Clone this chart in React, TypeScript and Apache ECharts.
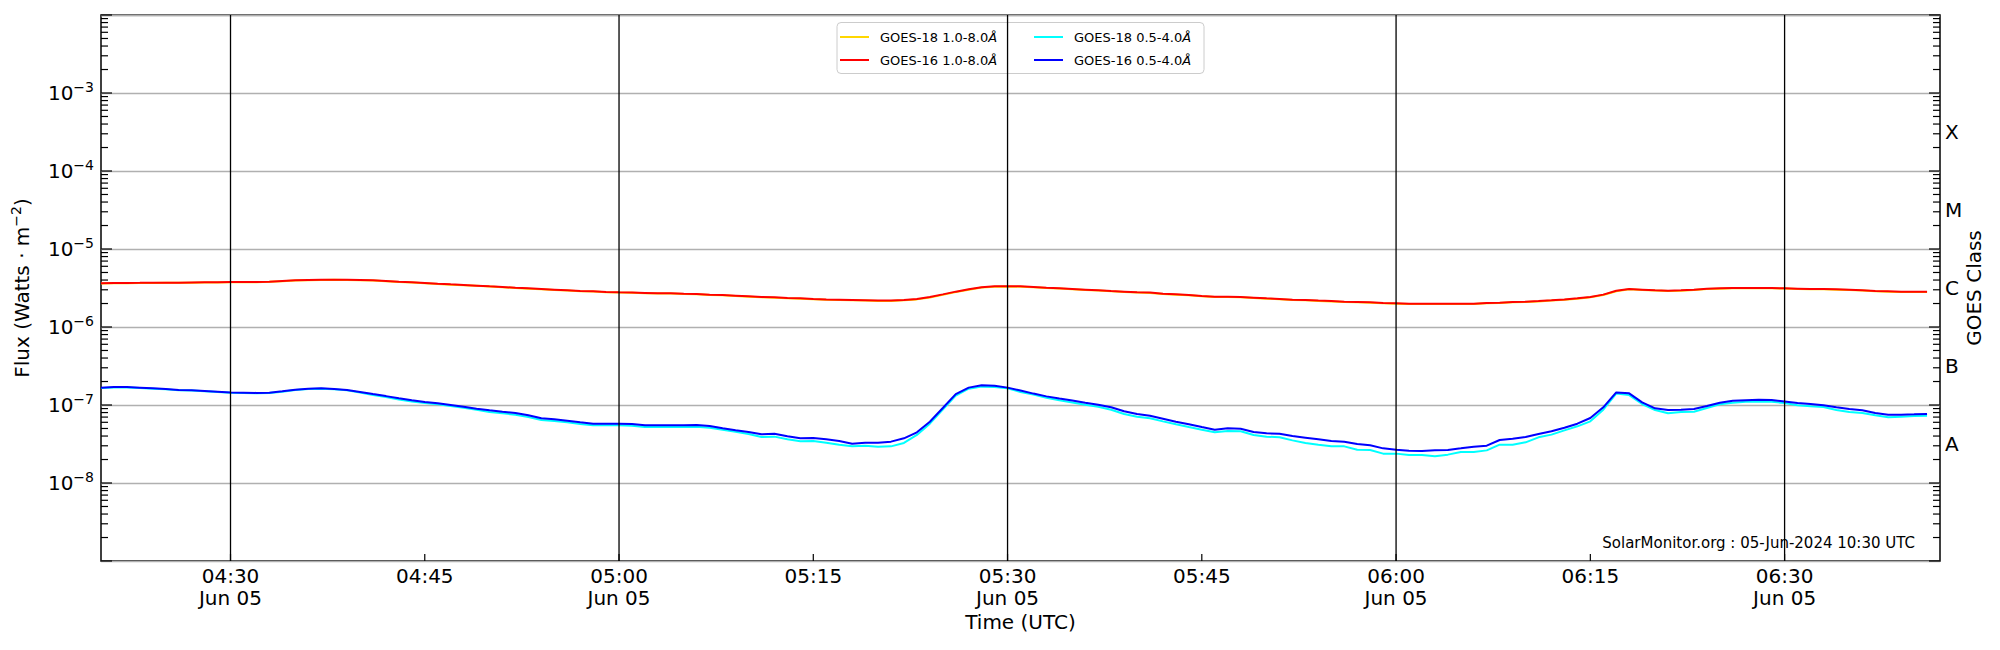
import React, { useEffect, useRef } from "react";
import * as echarts from "echarts";

// ---- time axis (UTC, 1-minute cadence) ----
const START_TIME = Date.UTC(2024, 5, 5, 4, 20);
const X_MIN = Date.UTC(2024, 5, 5, 4, 20);
const X_MAX = Date.UTC(2024, 5, 5, 6, 42);
const DATE_LABEL = "Jun 05";
const tickTimes = [
  Date.UTC(2024, 5, 5, 4, 30),
  Date.UTC(2024, 5, 5, 4, 45),
  Date.UTC(2024, 5, 5, 5, 0),
  Date.UTC(2024, 5, 5, 5, 15),
  Date.UTC(2024, 5, 5, 5, 30),
  Date.UTC(2024, 5, 5, 5, 45),
  Date.UTC(2024, 5, 5, 6, 0),
  Date.UTC(2024, 5, 5, 6, 15),
  Date.UTC(2024, 5, 5, 6, 30),
];
const dividerTimes = [
  Date.UTC(2024, 5, 5, 4, 30),
  Date.UTC(2024, 5, 5, 5, 0),
  Date.UTC(2024, 5, 5, 5, 30),
  Date.UTC(2024, 5, 5, 6, 0),
  Date.UTC(2024, 5, 5, 6, 30),
];

// ---- y axis ----
const Y_MIN = 1e-9;
const Y_MAX = 1e-2;
const yMajorTicks = [1e-9, 1e-8, 1e-7, 1e-6, 1e-5, 1e-4, 1e-3, 1e-2];
const yLabelExponents = [-8, -7, -6, -5, -4, -3];
const minorMultipliers = [2, 3, 4, 5, 6, 7, 8, 9];
const goesClasses = ["", "A", "B", "C", "M", "X", ""];

const seriesNames = [
  "GOES-18 1.0-8.0Å",
  "GOES-16 1.0-8.0Å",
  "GOES-18 0.5-4.0Å",
  "GOES-16 0.5-4.0Å",
];
const seriesColors = ["#FFD700", "#FF0000", "#00FFFF", "#0000FF"];

// ---- data (W/m^2), one value per minute from 04:20 UTC ----
const goes18Long = [
  3.60e-6, 3.64e-6, 3.65e-6, 3.66e-6, 3.67e-6, 3.68e-6, 3.68e-6, 3.70e-6, 3.71e-6, 3.72e-6,
  3.75e-6, 3.76e-6, 3.76e-6, 3.79e-6, 3.86e-6, 3.94e-6, 3.98e-6, 4.01e-6, 4.02e-6, 4.01e-6,
  3.98e-6, 3.94e-6, 3.86e-6, 3.78e-6, 3.71e-6, 3.64e-6, 3.57e-6, 3.49e-6, 3.43e-6, 3.37e-6,
  3.30e-6, 3.23e-6, 3.17e-6, 3.10e-6, 3.05e-6, 2.99e-6, 2.93e-6, 2.87e-6, 2.85e-6, 2.79e-6,
  2.76e-6, 2.74e-6, 2.71e-6, 2.68e-6, 2.68e-6, 2.65e-6, 2.63e-6, 2.58e-6, 2.55e-6, 2.50e-6,
  2.45e-6, 2.40e-6, 2.38e-6, 2.33e-6, 2.31e-6, 2.27e-6, 2.24e-6, 2.22e-6, 2.20e-6, 2.18e-6,
  2.16e-6, 2.16e-6, 2.20e-6, 2.26e-6, 2.38e-6, 2.58e-6, 2.80e-6, 3.01e-6, 3.20e-6, 3.29e-6,
  3.30e-6, 3.29e-6, 3.23e-6, 3.17e-6, 3.11e-6, 3.05e-6, 2.99e-6, 2.93e-6, 2.87e-6, 2.82e-6,
  2.76e-6, 2.73e-6, 2.65e-6, 2.60e-6, 2.55e-6, 2.48e-6, 2.43e-6, 2.43e-6, 2.40e-6, 2.36e-6,
  2.31e-6, 2.27e-6, 2.22e-6, 2.20e-6, 2.16e-6, 2.13e-6, 2.09e-6, 2.07e-6, 2.05e-6, 2.01e-6,
  1.99e-6, 1.97e-6, 1.97e-6, 1.97e-6, 1.97e-6, 1.97e-6, 1.97e-6, 2.01e-6, 2.03e-6, 2.07e-6,
  2.09e-6, 2.13e-6, 2.18e-6, 2.24e-6, 2.31e-6, 2.40e-6, 2.57e-6, 2.88e-6, 3.04e-6, 2.98e-6,
  2.93e-6, 2.90e-6, 2.92e-6, 2.98e-6, 3.07e-6, 3.10e-6, 3.13e-6, 3.13e-6, 3.13e-6, 3.14e-6,
  3.11e-6, 3.08e-6, 3.05e-6, 3.04e-6, 3.01e-6, 2.98e-6, 2.93e-6, 2.87e-6, 2.84e-6, 2.82e-6,
  2.81e-6, 2.81e-6,
];

const goes16Long = [
  3.63e-6, 3.67e-6, 3.67e-6, 3.68e-6, 3.70e-6, 3.70e-6, 3.70e-6, 3.72e-6, 3.74e-6, 3.74e-6,
  3.78e-6, 3.78e-6, 3.78e-6, 3.81e-6, 3.89e-6, 3.97e-6, 4.01e-6, 4.04e-6, 4.04e-6, 4.04e-6,
  4.01e-6, 3.97e-6, 3.89e-6, 3.81e-6, 3.74e-6, 3.67e-6, 3.59e-6, 3.52e-6, 3.46e-6, 3.39e-6,
  3.32e-6, 3.26e-6, 3.19e-6, 3.13e-6, 3.07e-6, 3.01e-6, 2.95e-6, 2.89e-6, 2.87e-6, 2.81e-6,
  2.78e-6, 2.76e-6, 2.73e-6, 2.70e-6, 2.70e-6, 2.67e-6, 2.65e-6, 2.60e-6, 2.57e-6, 2.52e-6,
  2.47e-6, 2.42e-6, 2.40e-6, 2.35e-6, 2.33e-6, 2.29e-6, 2.26e-6, 2.24e-6, 2.22e-6, 2.20e-6,
  2.18e-6, 2.18e-6, 2.22e-6, 2.29e-6, 2.42e-6, 2.62e-6, 2.84e-6, 3.04e-6, 3.23e-6, 3.32e-6,
  3.32e-6, 3.32e-6, 3.26e-6, 3.19e-6, 3.13e-6, 3.07e-6, 3.01e-6, 2.95e-6, 2.89e-6, 2.84e-6,
  2.78e-6, 2.76e-6, 2.67e-6, 2.62e-6, 2.57e-6, 2.50e-6, 2.45e-6, 2.45e-6, 2.42e-6, 2.38e-6,
  2.33e-6, 2.29e-6, 2.24e-6, 2.22e-6, 2.18e-6, 2.15e-6, 2.11e-6, 2.09e-6, 2.07e-6, 2.03e-6,
  2.01e-6, 1.99e-6, 1.99e-6, 1.99e-6, 1.99e-6, 1.99e-6, 1.99e-6, 2.03e-6, 2.05e-6, 2.09e-6,
  2.11e-6, 2.15e-6, 2.20e-6, 2.26e-6, 2.33e-6, 2.42e-6, 2.60e-6, 2.92e-6, 3.07e-6, 3.01e-6,
  2.95e-6, 2.92e-6, 2.95e-6, 3.01e-6, 3.10e-6, 3.13e-6, 3.16e-6, 3.16e-6, 3.16e-6, 3.16e-6,
  3.13e-6, 3.10e-6, 3.07e-6, 3.07e-6, 3.04e-6, 3.01e-6, 2.95e-6, 2.89e-6, 2.87e-6, 2.84e-6,
  2.84e-6, 2.84e-6,
];

const goes18Short = [
  1.65e-7, 1.68e-7, 1.68e-7, 1.65e-7, 1.62e-7, 1.59e-7, 1.54e-7, 1.53e-7, 1.50e-7, 1.47e-7,
  1.44e-7, 1.43e-7, 1.41e-7, 1.43e-7, 1.48e-7, 1.56e-7, 1.60e-7, 1.62e-7, 1.59e-7, 1.54e-7,
  1.45e-7, 1.34e-7, 1.27e-7, 1.18e-7, 1.11e-7, 1.06e-7, 1.02e-7, 9.71e-8, 9.24e-8, 8.71e-8,
  8.13e-8, 7.82e-8, 7.52e-8, 7.02e-8, 6.42e-8, 6.24e-8, 6.00e-8, 5.71e-8, 5.49e-8, 5.49e-8,
  5.49e-8, 5.43e-8, 5.22e-8, 5.22e-8, 5.22e-8, 5.22e-8, 5.28e-8, 5.12e-8, 4.83e-8, 4.55e-8,
  4.25e-8, 3.89e-8, 3.93e-8, 3.63e-8, 3.42e-8, 3.46e-8, 3.29e-8, 3.10e-8, 2.95e-8, 3.01e-8,
  2.92e-8, 2.95e-8, 3.26e-8, 4.13e-8, 5.76e-8, 8.71e-8, 1.32e-7, 1.62e-7, 1.72e-7, 1.70e-7,
  1.64e-7, 1.47e-7, 1.36e-7, 1.24e-7, 1.15e-7, 1.08e-7, 1.01e-7, 9.52e-8, 8.71e-8, 7.67e-8,
  7.09e-8, 6.75e-8, 6.17e-8, 5.65e-8, 5.22e-8, 4.83e-8, 4.46e-8, 4.64e-8, 4.60e-8, 4.13e-8,
  3.93e-8, 3.85e-8, 3.52e-8, 3.26e-8, 3.10e-8, 2.95e-8, 2.95e-8, 2.67e-8, 2.65e-8, 2.38e-8,
  2.38e-8, 2.29e-8, 2.29e-8, 2.20e-8, 2.31e-8, 2.50e-8, 2.50e-8, 2.62e-8, 3.10e-8, 3.10e-8,
  3.32e-8, 3.85e-8, 4.17e-8, 4.73e-8, 5.33e-8, 6.17e-8, 8.71e-8, 1.40e-7, 1.34e-7, 1.03e-7,
  8.63e-8, 7.82e-8, 8.13e-8, 8.21e-8, 9.15e-8, 1.02e-7, 1.07e-7, 1.10e-7, 1.11e-7, 1.10e-7,
  1.06e-7, 9.90e-8, 9.61e-8, 9.43e-8, 8.63e-8, 8.13e-8, 7.90e-8, 7.37e-8, 6.95e-8, 7.09e-8,
  7.23e-8, 7.30e-8,
];

const goes16Short = [
  1.67e-7, 1.70e-7, 1.70e-7, 1.67e-7, 1.64e-7, 1.60e-7, 1.56e-7, 1.54e-7, 1.51e-7, 1.48e-7,
  1.45e-7, 1.44e-7, 1.43e-7, 1.44e-7, 1.50e-7, 1.57e-7, 1.62e-7, 1.64e-7, 1.60e-7, 1.56e-7,
  1.47e-7, 1.38e-7, 1.30e-7, 1.22e-7, 1.15e-7, 1.09e-7, 1.05e-7, 1.00e-7, 9.52e-8, 8.97e-8,
  8.54e-8, 8.21e-8, 7.90e-8, 7.37e-8, 6.75e-8, 6.55e-8, 6.30e-8, 6.00e-8, 5.76e-8, 5.76e-8,
  5.76e-8, 5.71e-8, 5.49e-8, 5.49e-8, 5.49e-8, 5.49e-8, 5.54e-8, 5.38e-8, 5.02e-8, 4.73e-8,
  4.51e-8, 4.21e-8, 4.29e-8, 3.97e-8, 3.74e-8, 3.78e-8, 3.63e-8, 3.46e-8, 3.19e-8, 3.29e-8,
  3.29e-8, 3.39e-8, 3.74e-8, 4.46e-8, 6.11e-8, 9.15e-8, 1.38e-7, 1.67e-7, 1.79e-7, 1.77e-7,
  1.67e-7, 1.53e-7, 1.40e-7, 1.29e-7, 1.21e-7, 1.14e-7, 1.07e-7, 1.01e-7, 9.34e-8, 8.30e-8,
  7.67e-8, 7.30e-8, 6.68e-8, 6.11e-8, 5.65e-8, 5.22e-8, 4.83e-8, 5.02e-8, 4.97e-8, 4.51e-8,
  4.33e-8, 4.29e-8, 4.00e-8, 3.81e-8, 3.63e-8, 3.46e-8, 3.39e-8, 3.16e-8, 3.04e-8, 2.78e-8,
  2.67e-8, 2.60e-8, 2.57e-8, 2.62e-8, 2.65e-8, 2.78e-8, 2.92e-8, 3.01e-8, 3.56e-8, 3.70e-8,
  3.89e-8, 4.25e-8, 4.60e-8, 5.12e-8, 5.76e-8, 6.81e-8, 9.34e-8, 1.45e-7, 1.41e-7, 1.08e-7,
  9.06e-8, 8.63e-8, 8.71e-8, 8.89e-8, 9.71e-8, 1.07e-7, 1.13e-7, 1.15e-7, 1.17e-7, 1.16e-7,
  1.11e-7, 1.06e-7, 1.03e-7, 9.90e-8, 9.34e-8, 8.89e-8, 8.54e-8, 7.90e-8, 7.52e-8, 7.52e-8,
  7.59e-8, 7.67e-8,
];

const seriesValues = [goes18Long, goes16Long, goes18Short, goes16Short];

const FONT = "DejaVu Sans";
const STAMP = "SolarMonitor.org : 05-Jun-2024 10:30 UTC";

function pad2(n: number) {
  return String(n).padStart(2, "0");
}

function buildOption() {
  const toPairs = (arr: number[]) => arr.map((v, i) => [START_TIME + i * 60000, v]);

  const minorTicks: number[] = [];
  for (let e = -9; e < -2; e++) {
    for (const m of minorMultipliers) minorTicks.push(m * Math.pow(10, e));
  }
  const tickData = [
    ...yMajorTicks.map((v) => [X_MIN, v, 0]),
    ...minorTicks.map((v) => [X_MIN, v, 1]),
  ];
  const xTickData = tickTimes.map((t) => [t, Y_MIN]);

  const legendFormatter = (name: string) => name.replace("Å", "{i|Å}");
  const legendCommon = {
    orient: "vertical",
    top: 29,
    itemWidth: 29,
    itemHeight: 2,
    itemGap: 7,
    icon: "rect",
    padding: 0,
    selectedMode: false,
    formatter: legendFormatter,
    textStyle: {
      fontFamily: FONT,
      fontSize: 13,
      lineHeight: 16,
      color: "#000",
      padding: [0, 0, 0, 6],
      rich: { i: { fontFamily: FONT, fontSize: 13, lineHeight: 16, fontStyle: "italic", color: "#000" } },
    },
  };

  const lineSeries = seriesNames.map((name, k) => ({
    name,
    type: "line",
    xAxisIndex: 0,
    yAxisIndex: 0,
    data: toPairs(seriesValues[k]),
    showSymbol: false,
    symbol: "none",
    silent: true,
    z: 2 + k,
    itemStyle: { color: seriesColors[k] },
    lineStyle: { color: seriesColors[k], width: 2 },
  }));

  const xLabelFormatter = (v: number) => {
    const d = new Date(v);
    const m = d.getUTCMinutes();
    if (m % 15 !== 0 || d.getUTCSeconds() !== 0) return "";
    const s = `${pad2(d.getUTCHours())}:${pad2(m)}`;
    return m % 30 === 0 ? `${s}\n${DATE_LABEL}` : s;
  };

  return {
    animation: false,
    backgroundColor: "#ffffff",
    textStyle: { fontFamily: FONT },
    grid: {
      left: 101,
      right: 60,
      top: 15,
      height: 546,
      show: true,
      borderColor: "#000",
      borderWidth: 1.5,
      backgroundColor: "transparent",
    },
    legend: [
      { ...legendCommon, left: 840, data: [seriesNames[0], seriesNames[1]] },
      { ...legendCommon, left: 1034, data: [seriesNames[2], seriesNames[3]] },
    ],
    graphic: [
      {
        type: "rect",
        z: 3,
        silent: true,
        shape: { x: 837, y: 22.5, width: 367, height: 51, r: 4 },
        style: { fill: "rgba(255,255,255,0.8)", stroke: "#cccccc", lineWidth: 1 },
      },
      {
        type: "text",
        z: 5,
        silent: true,
        x: 1915,
        y: 543,
        style: {
          text: STAMP,
          fontFamily: FONT,
          fontSize: 15,
          fill: "#000",
          align: "right",
          verticalAlign: "middle",
        },
      },
    ],
    xAxis: {
      type: "value",
      min: X_MIN,
      max: X_MAX,
      axisLine: { show: false },
      axisTick: { show: false },
      splitLine: { show: false },
      axisLabel: {
        customValues: tickTimes,
        color: "#000",
        fontFamily: FONT,
        fontSize: 20,
        lineHeight: 22,
        margin: 4,
        formatter: xLabelFormatter,
      },
      name: "Time (UTC)",
      nameLocation: "middle",
      nameGap: 51,
      nameMoveOverlap: false,
      nameTextStyle: { color: "#000", fontFamily: FONT, fontSize: 20 },
    },
    yAxis: [
      {
        type: "log",
        logBase: 10,
        min: Y_MIN,
        max: Y_MAX,
        position: "left",
        axisLine: { show: false },
        axisTick: { show: false },
        splitLine: { show: true, lineStyle: { color: "#b0b0b0", width: 1.3 } },
        axisLabel: {
          showMinLabel: false,
          showMaxLabel: false,
          margin: 7,
          color: "#000",
          formatter: (v: number) => {
            const e = Math.round(Math.log10(v));
            if (yLabelExponents.indexOf(e) < 0) return "";
            return `{b|10}{s|−${Math.abs(e)}}`;
          },
          rich: {
            b: { fontFamily: FONT, fontSize: 20, lineHeight: 26, color: "#000", verticalAlign: "middle" },
            s: { fontFamily: FONT, fontSize: 14, lineHeight: 14, color: "#000", verticalAlign: "top" },
          },
        },
        name: "Flux (Watts · m{s|−2})",
        nameLocation: "middle",
        nameRotate: 90,
        nameGap: 66,
        nameMoveOverlap: false,
        nameTextStyle: {
          color: "#000",
          fontFamily: FONT,
          fontSize: 20,
          lineHeight: 26,
          rich: { s: { fontFamily: FONT, fontSize: 14, lineHeight: 14, color: "#000", verticalAlign: "top" } },
        },
      },
      {
        type: "category",
        data: goesClasses,
        position: "right",
        boundaryGap: true,
        axisLine: { show: false },
        axisTick: { show: false },
        splitLine: { show: false },
        axisLabel: { color: "#000", fontFamily: FONT, fontSize: 20, margin: 5 },
        name: "GOES Class",
        nameLocation: "middle",
        nameRotate: 90,
        nameGap: 24,
        nameMoveOverlap: false,
        nameTextStyle: { color: "#000", fontFamily: FONT, fontSize: 20 },
      },
    ],
    series: [
      ...lineSeries,
      {
        type: "custom",
        name: "dividers",
        silent: true,
        z: 8,
        clip: false,
        data: dividerTimes.map((t) => [t, 1e-5]),
        renderItem: (params: any, api: any) => {
          const t = api.value(0);
          const p1 = api.coord([t, Y_MAX]);
          const p2 = api.coord([t, Y_MIN]);
          return {
            type: "line",
            shape: { x1: p1[0], y1: p1[1], x2: p2[0], y2: p2[1] },
            style: { stroke: "#000", lineWidth: 1.3 },
          };
        },
      },
      {
        type: "custom",
        name: "xticks",
        silent: true,
        z: 9,
        clip: false,
        data: xTickData,
        renderItem: (params: any, api: any) => {
          const p = api.coord([api.value(0), Y_MIN]);
          return {
            type: "line",
            shape: { x1: p[0], y1: p[1], x2: p[0], y2: p[1] - 7 },
            style: { stroke: "#000", lineWidth: 1.2 },
          };
        },
      },
      {
        type: "custom",
        name: "yticks",
        silent: true,
        z: 9,
        clip: false,
        data: tickData,
        renderItem: (params: any, api: any) => {
          const v = api.value(1);
          const kind = api.value(2);
          const len = kind === 0 ? 11 : 7;
          const pl = api.coord([X_MIN, v]);
          const pr = api.coord([X_MAX, v]);
          return {
            type: "group",
            children: [
              { type: "line", shape: { x1: pl[0], y1: pl[1], x2: pl[0] + len, y2: pl[1] }, style: { stroke: "#000", lineWidth: 1.2 } },
              { type: "line", shape: { x1: pr[0] - len, y1: pr[1], x2: pr[0], y2: pr[1] }, style: { stroke: "#000", lineWidth: 1.2 } },
            ],
          };
        },
      },
    ],
  };
}

export default function App() {
  const ref = useRef<HTMLDivElement | null>(null);
  useEffect(() => {
    if (!ref.current) return;
    const chart = echarts.init(ref.current, undefined, { renderer: "svg" });
    chart.setOption(buildOption() as any);
    return () => chart.dispose();
  }, []);
  return (
    <div
      ref={ref}
      style={{ position: "fixed", left: 0, top: 0, width: 2000, height: 650, background: "#fff" }}
    />
  );
}
